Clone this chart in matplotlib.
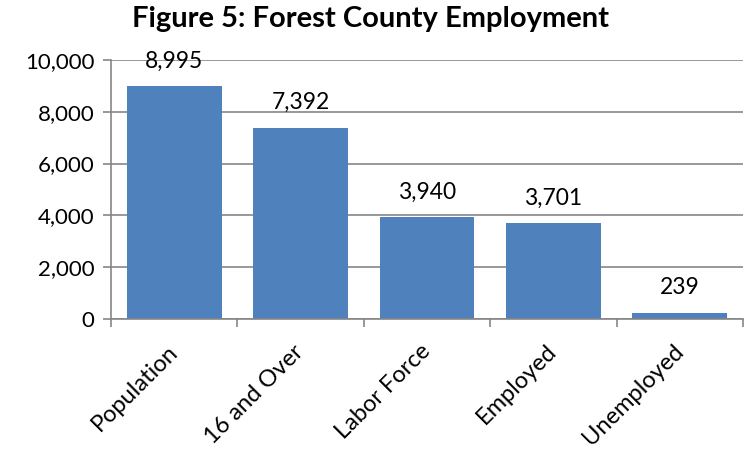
import numpy as np
import matplotlib.pyplot as plt
from matplotlib.ticker import FuncFormatter, MultipleLocator

plt.rcParams['font.family'] = ['Lato', 'DejaVu Sans']

categories = ['Population', '16 and Over', 'Labor Force', 'Employed', 'Unemployed']
values = [8995, 7392, 3940, 3701, 239]

fig = plt.figure(figsize=(7.51, 4.5), dpi=100)
ax = fig.add_axes([0.1478, 0.2911, 0.8415, 0.5756])

pos = np.arange(len(categories))
ax.bar(pos, values, width=0.75, color='#4F81BD', zorder=2)

# data labels above bars
for x, v in zip(pos, values):
    ax.annotate(f'{v:,}', (x, v), xytext=(0, 18), textcoords='offset points',
                ha='center', va='center', fontsize=16.5)

ax.set_xlim(-0.5, len(categories) - 0.5)
ax.set_ylim(0, 10000)
ax.yaxis.set_major_locator(MultipleLocator(2000))
ax.yaxis.set_major_formatter(FuncFormatter(lambda v, p: f'{int(v):,}'))
ax.set_axisbelow(True)
ax.grid(axis='y', color='#868686', linewidth=1.2)

ax.set_xticks(pos)
ax.set_xticklabels(categories, rotation=45, ha='right', va='center',
                   rotation_mode='anchor', fontsize=17)
ax.set_xticks(np.arange(-0.5, len(categories)), minor=True)
ax.tick_params(axis='x', which='major', length=0, pad=21)
ax.tick_params(axis='x', which='minor', length=6, color='#868686', width=1.2)
ax.tick_params(axis='y', length=6, color='#868686', width=1.2, labelsize=16, pad=6)

for s in ['top', 'right']:
    ax.spines[s].set_visible(False)
for s in ['left', 'bottom']:
    ax.spines[s].set_color('#868686')
    ax.spines[s].set_linewidth(1.2)

fig.text(0.494, 0.957, 'Figure 5: Forest County Employment', fontsize=21,
         fontweight='bold', ha='center', va='center')

fig.savefig('out.png', dpi=100)
